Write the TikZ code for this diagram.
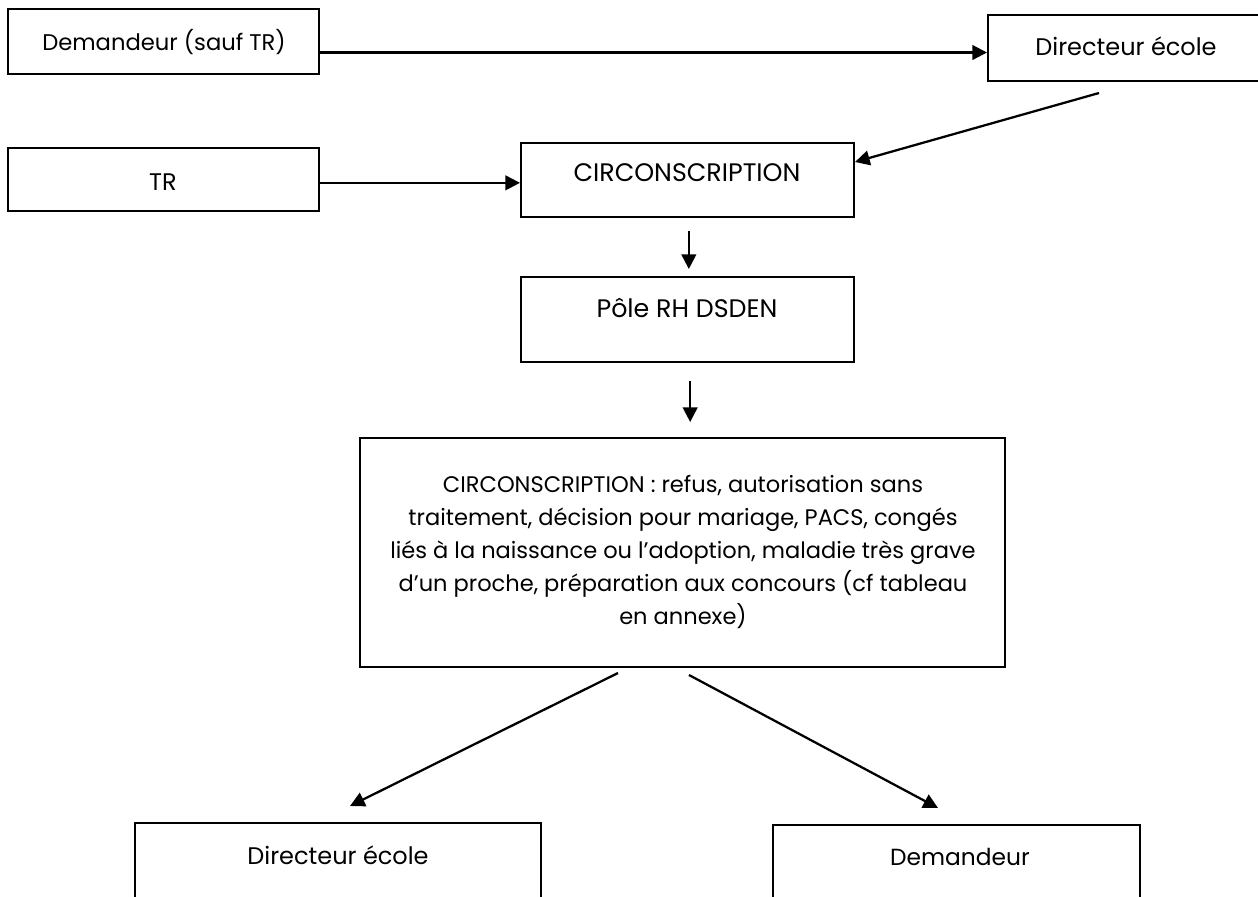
\documentclass[tikz,border=0pt]{standalone}
\usepackage{fontspec}
\setmainfont{Poppins}
\usepackage{tikz}
\usetikzlibrary{arrows.meta, positioning, calc}

\begin{document}
\begin{tikzpicture}[
    x=0.75pt, y=-0.75pt,
    box/.style={draw, line width=1.5pt, inner sep=0pt},
    txt/.style={font=\fontsize{17}{20}\selectfont, inner sep=0pt},
    caps/.style={font=\fontsize{19}{22}\selectfont, inner sep=0pt},
    arrow/.style={-{Triangle[length=11pt, width=11pt]}, line width=1.7pt}
]
    \useasboundingbox (0,0) rectangle (1258,897);

    % Demandeur et directeur
    \node[box, minimum width=233.25pt, minimum height=48.75pt] (dem) at (163.5, 41.5) {};
    \node[txt] at (164, 42) {Demandeur (sauf TR)};

    \node[box, minimum width=207pt, minimum height=49.5pt] (dir) at (1126, 48) {};
    \node[txt, font=\fontsize{18}{21}\selectfont] at (1126, 46) {Directeur école};

    % TR
    \node[box, minimum width=233.25pt, minimum height=47.25pt] (tr) at (163.5, 179.5) {};
    \node[txt, font=\fontsize{18}{21}\selectfont] at (163, 182) {TR};

    % Circonscription
    \node[box, minimum width=249.75pt, minimum height=55.5pt] (circ) at (687.5, 180) {};
    \node[caps] at (687, 173) {CIRCONSCRIPTION};

    % Pole RH
    \node[box, minimum width=249.75pt, minimum height=63.75pt] (pole) at (687.5, 319.5) {};
    \node[caps] at (687, 308) {Pôle RH DSDEN};

    % Decision
    \node[box, minimum width=483.75pt, minimum height=171.75pt] (dec) at (682.5, 552.5) {};
    \node[txt, align=center, font=\fontsize{16.9}{24.75}\selectfont] at (683, 552)
        {CIRCONSCRIPTION : refus, autorisation sans\\
         traitement, décision pour mariage, PACS, congés\\
         liés à la naissance ou l’adoption, maladie très grave\\
         d’un proche, préparation aux concours (cf tableau\\
         en annexe)};

    % Retour
    \node[box, minimum width=304.5pt, minimum height=80.25pt] (dir2) at (338, 876.5) {};
    \node[txt, font=\fontsize{18}{21}\selectfont] at (338, 855) {Directeur école};

    \node[box, minimum width=275.25pt, minimum height=78.75pt] (dem2) at (956.5, 877.5) {};
    \node[txt, font=\fontsize{17.5}{21}\selectfont] at (960, 857) {Demandeur};

    % Connections
    \coordinate (dirfoot) at (1099, 93);
    \coordinate (outL) at (618, 673);
    \coordinate (inL) at (350, 806);
    \coordinate (outR) at (689, 675);
    \coordinate (inR) at (938, 808);

    \draw[arrow] ([yshift=-8.25pt]dem.east) -- ([yshift=-8.25pt]dem.east -| dir.west);
    \draw[arrow] (dirfoot) -- ([yshift=-15pt]circ.north east);
    \draw[arrow] ([yshift=-2.5pt]tr.east) -- ([yshift=-2.5pt]tr.east -| circ.west);
    \draw[arrow, shorten <=9.75pt, shorten >=5.25pt] ([xshift=1pt]circ.south) -- ([xshift=1pt]pole.north);
    \draw[arrow, shorten <=13.5pt, shorten >=11.25pt] ([xshift=2pt]pole.south) -- ([xshift=2pt]pole.south |- dec.north);
    \draw[arrow] (outL) -- (inL);
    \draw[arrow] (outR) -- (inR);

\end{tikzpicture}
\end{document}
